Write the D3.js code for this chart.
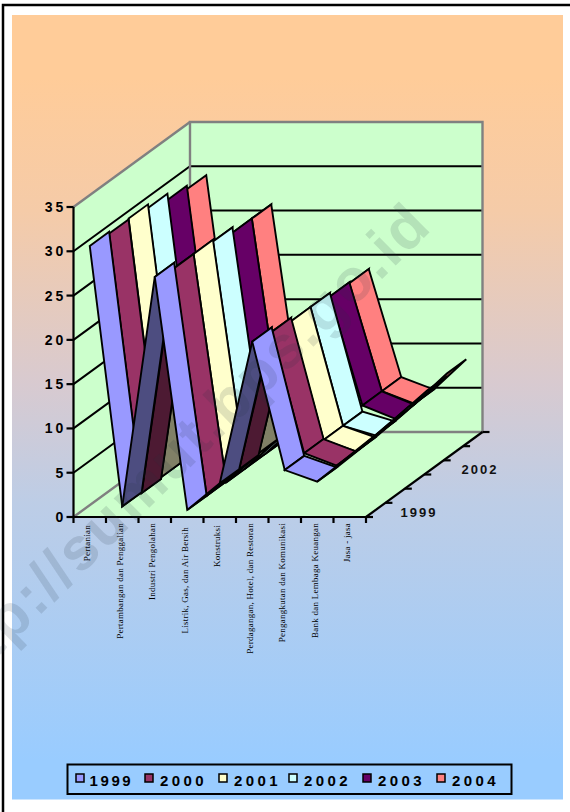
<!DOCTYPE html>
<html>
<head>
<meta charset="utf-8">
<script src="https://cdnjs.cloudflare.com/ajax/libs/d3/7.8.5/d3.min.js"></script>
<style>
html,body{margin:0;padding:0;background:#fff;}
svg{display:block;}
</style>
</head>
<body>
<svg id="chart" width="570" height="812"></svg>
<script>
// Sector shares of regional GDP, 1999-2004, drawn as oblique 3-D ribbons.
const categories = ["Pertanian","Pertambangan dan Penggalian","Industri Pengolahan","Listrik, Gas, dan Air Bersih","Konstruksi","Perdagangan, Hotel, dan Restoran","Pengangkutan dan Komunikasi","Bank dan Lembaga Keuangan","Jasa - jasa"];
const years = ["1999","2000","2001","2002","2003","2004"];
const depthLabels = ["1999","2002"];
const yTicks = [0,5,10,15,20,25,30,35];
const values1999 = [30.6,1.2,27.1,0.8,3.8,19.8,5.3,4.0,6.9];
const values2000 = [30.4,1.1,26.5,0.8,3.8,19.3,5.6,4.2,7.1];
const values2001 = [30.5,1.3,26.5,0.7,4.0,18.9,5.5,4.2,7.3];
const values2002 = [30.1,1.6,26.3,0.7,4.0,18.9,5.5,4.4,7.6];
const values2003 = [29.4,1.6,25.7,0.7,4.0,18.5,6.2,4.7,7.9];
const values2004 = [29.0,1.6,25.7,0.7,4.0,18.4,6.2,4.8,8.2];
const seriesValues = [values1999,values2000,values2001,values2002,values2003,values2004];
const seriesColors = ["#9999FF","#993366","#FFFFCC","#CCFFFF","#660066","#FF8080"];

const svg = d3.select("#chart");
const defs = svg.append("defs");
const grad = defs.append("linearGradient").attr("id","bg").attr("x1",0).attr("y1",0).attr("x2",0).attr("y2",1);
[[0.08,"#FFCC99"],[0.25,"#F5CBA8"],[0.47,"#D8CAD0"],[0.62,"#BDCDE6"],[0.95,"#99CCFF"]].forEach(([o,c])=>{
  grad.append("stop").attr("offset",o).attr("stop-color",c);
});

// Page frame and chart area
svg.append("path").attr("d","M3,812V5H570").attr("fill","none").attr("stroke","#000").attr("stroke-width",2.5);
svg.append("rect").attr("x",12).attr("y",15).attr("width",551).attr("height",784.5).attr("fill","url(#bg)");

// Category and value scales on the front plane; depth shifts points up and to the right.
const frontX = d3.scaleLinear().domain([0,9]).range([73.5,366]);
const yScale = d3.scaleLinear().domain([0,35]).range([517,207]);
const depthX = d3.scaleLinear().domain([0,6]).range([0,116.5]);
const depthY = d3.scaleLinear().domain([0,6]).range([0,-85]);
const px = (c,d) => frontX(c) + depthX(d);
const py = (v,d) => yScale(v) + depthY(d);
const pt = (c,v,d) => [px(c,d),py(v,d)];
const poly = d3.line();

const walls = svg.append("g");
// Floor
walls.append("path").attr("d",poly([pt(0,0,0),pt(9,0,0),pt(9,0,6),pt(0,0,6)])+"Z").attr("fill","#CCFFCC");
// Left wall
walls.append("path").attr("d",poly([pt(0,0,0),pt(0,35,0),pt(0,35,6),pt(0,0,6)])+"Z").attr("fill","#CCFFCC");
// Back wall
walls.append("path").attr("d",poly([pt(0,0,6),pt(0,35,6),pt(9,35,6),pt(9,0,6)])+"Z").attr("fill","#CCFFCC");

// Gridlines on left and back walls
yTicks.filter(v=>v>0&&v<35).forEach(v=>{
  walls.append("path").attr("d",poly([pt(0,v,0),pt(0,v,6),pt(9,v,6)])).attr("fill","none").attr("stroke","#000").attr("stroke-width",2);
});

// Wall outlines
walls.append("path").attr("d",poly([pt(0,0,0),pt(0,0,6),pt(9,0,6),pt(9,35,6),pt(0,35,6),pt(0,0,6)])).attr("fill","none").attr("stroke","#808080").attr("stroke-width",2.4);
walls.append("path").attr("d",poly([pt(0,35,0),pt(0,35,6)])).attr("fill","none").attr("stroke","#808080").attr("stroke-width",2.4);

// Ribbons: back series first, then each series left to right.
const ribbons = svg.append("g");
d3.range(5,-1,-1).forEach(s=>{
  const vals = seriesValues[s];
  const col = d3.color(seriesColors[s]);
  const dark = d3.rgb(col.r*0.5,col.g*0.5,col.b*0.5);
  d3.range(vals.length-1).forEach(i=>{
    const c0=i+0.5,c1=i+1.5;
    ribbons.append("path")
      .attr("d",poly([pt(c0,vals[i],s),pt(c0,vals[i],s+1),pt(c1,vals[i+1],s+1),pt(c1,vals[i+1],s)])+"Z")
      .attr("fill",vals[i+1]>vals[i]?dark:col)
      .attr("stroke","#000").attr("stroke-width",1.9).attr("stroke-linejoin","miter");
  });
});

// Axes
const axes = svg.append("g");
const seg = (a,b)=>{axes.append("path").attr("d",poly([a,b])).attr("stroke","#000").attr("stroke-width",2.2).attr("fill","none");};
seg(pt(0,0,0),pt(0,35,0));
seg(pt(0,0,0),pt(9,0,0));
seg(pt(9,0,0),pt(9,0,6));
yTicks.forEach(v=>{
  const y=yScale(v);
  seg([frontX(0)-7,y],[frontX(0),y]);
  axes.append("text").attr("x",66).attr("y",y+5).attr("text-anchor","end")
    .attr("font-family","Liberation Sans").attr("font-weight","bold").attr("font-size",14).attr("letter-spacing",2.8).attr("fill","#000").text(v);
});
d3.range(0,10).forEach(c=>seg([frontX(c),517],[frontX(c),523]));
d3.range(0,7).forEach(d=>seg(pt(9,0,d),[px(9,d)+7,py(0,d)]));

// Category labels, rotated
const labelOffset=[2,0,0,4,2,0,0,0,0];
categories.forEach((name,i)=>{
  const x=frontX(i+0.5)+0.5;
  axes.append("text").attr("transform",`translate(${x},${523+labelOffset[i]}) rotate(-90)`)
    .attr("text-anchor","end").attr("font-family","Liberation Serif").attr("font-size",9).attr("letter-spacing",0.25).attr("fill","#000").text(name);
});

// Depth axis labels
[[419,516.5],[480,474]].forEach(([x,y],n)=>{
  axes.append("text").attr("x",x).attr("y",y).attr("text-anchor","middle")
   .attr("font-family","Liberation Sans").attr("font-weight","bold").attr("font-size",13).attr("letter-spacing",2).attr("fill","#111").text(depthLabels[n]);
});

// Legend
const legend = svg.append("g");
legend.append("rect").attr("x",67.5).attr("y",764.5).attr("width",444).attr("height",29.5).attr("fill","none").attr("stroke","#000").attr("stroke-width",2);
const legendX=[76,145,219,289,363,437];
years.forEach((yr,i)=>{
  legend.append("rect").attr("x",legendX[i]).attr("y",774).attr("width",8).attr("height",8).attr("fill",seriesColors[i]).attr("stroke","#000").attr("stroke-width",1.5);
  legend.append("text").attr("x",legendX[i]+(i===0?13.5:15)).attr("y",785.5).attr("font-family","Liberation Sans").attr("font-weight","bold").attr("font-size",15).attr("letter-spacing",i===0?2.6:3.4).attr("fill","#000").text(yr);
});

// Site watermark across the page
svg.append("text").attr("transform","translate(434,228) rotate(-44.5)").attr("text-anchor","end")
  .attr("font-family","Liberation Sans").attr("font-weight","bold").attr("font-size",60).attr("fill","#203040").attr("fill-opacity",0.14).attr("letter-spacing",2.2)
  .text("http://sumut.bps.go.id");
</script>
</body>
</html>
